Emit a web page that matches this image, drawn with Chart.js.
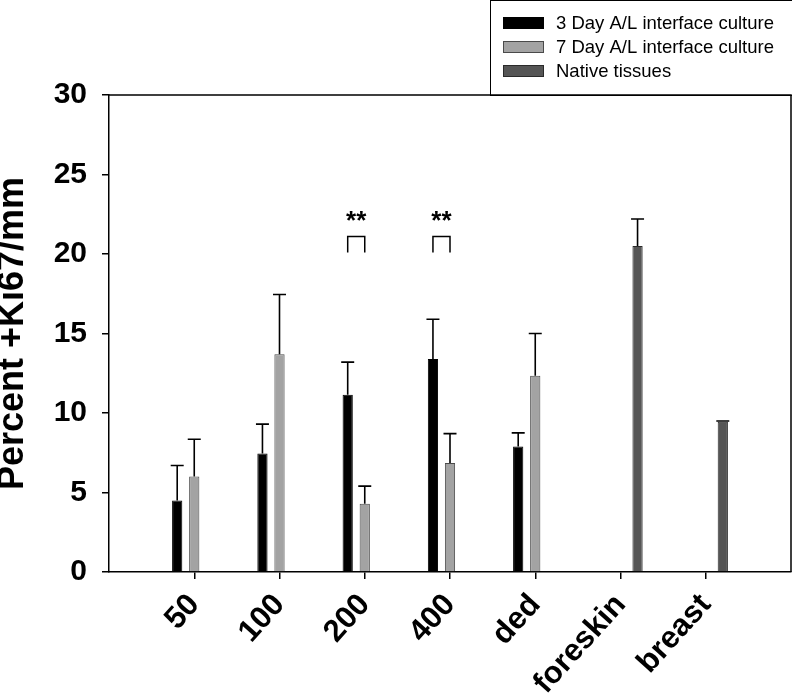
<!DOCTYPE html>
<html>
<head>
<meta charset="utf-8">
<script src="https://cdn.jsdelivr.net/npm/chart.js@4.4.1/dist/chart.umd.min.js"></script>
<style>
  html, body { margin: 0; padding: 0; background: #fff; }
</style>
</head>
<body>
<canvas id="chartKi67" width="792" height="699"></canvas>
<script>
// datos
const categorias = ['50', '100', '200', '400', 'ded', 'foreskin', 'breast'];
const posiciones = [1, 2, 3, 4, 5, 6, 7];
const dia3 = [4.5, 7.45, 11.15, 13.4, 7.9, null, null];
const dia3Error = [2.2, 1.85, 2.05, 2.5, 0.85, null, null];
const dia7 = [6.0, 13.7, 4.3, 6.85, 12.35, null, null];
const dia7Error = [2.35, 3.75, 1.1, 1.85, 2.65, null, null];
const nativo = [null, null, null, null, null, 20.5, 9.45];
const nativoError = [null, null, null, null, null, 1.7, 0.05];
const etiquetasSerie = ['3 Day A/L interface culture', '7 Day A/L interface culture', 'Native tissues'];
const significancia = [3, 4];          // posiciones de 200 y 400
const textoSig = '**';
const corcheteArriba = 21.1, corcheteAbajo = 20.1, alturaTexto = 21.6;

const FUENTE = 'Arial, "Liberation Sans", sans-serif';

function puntos(valores, errores) {
    return posiciones
        .map((p, i) => ({ x: p, y: valores[i], err: errores[i] }))
        .filter(d => d.y !== null);
}

// barras de error hacia arriba
const pluginErrores = {
    id: 'errores',
    afterDatasetsDraw(chart) {
        const ctx = chart.ctx;
        const y = chart.scales.y;
        ctx.save();
        ctx.strokeStyle = '#000';
        ctx.lineWidth = 1.6;
        chart.data.datasets.forEach((ds, i) => {
            const meta = chart.getDatasetMeta(i);
            meta.data.forEach((bar, j) => {
                const d = ds.data[j];
                if (!d || d.err == null) return;
                const top = y.getPixelForValue(d.y + d.err);
                ctx.beginPath();
                ctx.moveTo(bar.x, bar.y);
                ctx.lineTo(bar.x, top);
                ctx.moveTo(bar.x - 6.5, top);
                ctx.lineTo(bar.x + 6.5, top);
                ctx.stroke();
            });
        });
        ctx.restore();
    }
};

// corchetes y asteriscos
const pluginSignificancia = {
    id: 'significancia',
    afterDatasetsDraw(chart) {
        const ctx = chart.ctx;
        const y = chart.scales.y;
        const m0 = chart.getDatasetMeta(0), m1 = chart.getDatasetMeta(1);
        ctx.save();
        ctx.strokeStyle = '#000';
        ctx.lineWidth = 1.5;
        ctx.fillStyle = '#000';
        ctx.font = 'bold 26px ' + FUENTE;
        ctx.textAlign = 'center';
        ctx.textBaseline = 'alphabetic';
        significancia.forEach(pos => {
            const j0 = chart.data.datasets[0].data.findIndex(d => d.x === pos);
            const j1 = chart.data.datasets[1].data.findIndex(d => d.x === pos);
            const xa = m0.data[j0].x, xb = m1.data[j1].x;
            const yt = y.getPixelForValue(corcheteArriba), yb = y.getPixelForValue(corcheteAbajo);
            ctx.beginPath();
            ctx.moveTo(xa, yb);
            ctx.lineTo(xa, yt);
            ctx.lineTo(xb, yt);
            ctx.lineTo(xb, yb);
            ctx.stroke();
            ctx.fillText(textoSig, (xa + xb) / 2, y.getPixelForValue(alturaTexto));
        });
        ctx.restore();
    }
};

// marco superior y derecho + leyenda en caja
const pluginMarco = {
    id: 'marco',
    afterDraw(chart) {
        const ctx = chart.ctx;
        const a = chart.chartArea;
        ctx.save();
        ctx.strokeStyle = '#000';
        ctx.lineWidth = 1.5;
        ctx.beginPath();
        ctx.moveTo(a.left, a.top);
        ctx.lineTo(a.right, a.top);
        ctx.lineTo(a.right, a.bottom);
        ctx.stroke();

        // leyenda
        ctx.lineWidth = 1;
        ctx.strokeRect(490.5, 0.5, 310, a.top);
        ctx.font = '18.5px ' + FUENTE;
        ctx.textBaseline = 'middle';
        ctx.textAlign = 'left';
        chart.data.datasets.forEach((ds, i) => {
            const cy = 23 + i * 24;
            ctx.fillStyle = ds.backgroundColor;
            ctx.fillRect(503, cy - 6, 41, 12);
            ctx.strokeStyle = ds.borderColor;
            ctx.strokeRect(503.5, cy - 5.5, 40, 11);
            ctx.fillStyle = '#000';
            ctx.fillText(ds.label, 556, cy + 1);
        });
        ctx.restore();
    }
};

const ctx = document.getElementById('chartKi67').getContext('2d');
const chart = new Chart(ctx, {
    type: 'bar',
    data: {
        datasets: [{
            label: etiquetasSerie[0],
            data: puntos(dia3, dia3Error),
            backgroundColor: '#000000',
            borderColor: '#000000',
            borderWidth: 1
        }, {
            label: etiquetasSerie[1],
            data: puntos(dia7, dia7Error),
            backgroundColor: '#a3a3a3',
            borderColor: '#4a4a4a',
            borderWidth: 1
        }, {
            label: etiquetasSerie[2],
            data: puntos(nativo, nativoError),
            backgroundColor: '#555555',
            borderColor: '#2a2a2a',
            borderWidth: 1
        }]
    },
    options: {
        responsive: false,
        animation: false,
        categoryPercentage: 0.6,
        barPercentage: 0.6,
        layout: { padding: { top: 95, right: 1, left: 0, bottom: 0 } },
        plugins: { legend: { display: false }, tooltip: { enabled: false } },
        scales: {
            x: {
                type: 'linear',
                min: 0,
                max: 8,
                offset: false,
                afterBuildTicks: s => { s.ticks = posiciones.map(v => ({ value: v })); },
                afterFit: s => { s.height = 127; },
                grid: { offset: false, drawOnChartArea: false, drawTicks: true, tickLength: 7, color: '#000', lineWidth: 1.5 },
                border: { display: true, color: '#000', width: 1.5 },
                ticks: {
                    autoSkip: false,
                    maxRotation: 48,
                    minRotation: 48,
                    padding: 8,
                    color: '#000',
                    font: { family: FUENTE, size: 31, weight: 'bold' },
                    callback: v => categorias[posiciones.indexOf(v)]
                }
            },
            y: {
                min: 0,
                max: 30,
                afterFit: s => { s.width = 109; },
                grid: { drawOnChartArea: false, drawTicks: true, tickLength: 7, color: '#000', lineWidth: 1.5 },
                border: { display: true, color: '#000', width: 1.5 },
                ticks: {
                    stepSize: 5,
                    padding: 15,
                    color: '#000',
                    font: { family: FUENTE, size: 30, weight: 'bold' }
                },
                title: {
                    display: true,
                    text: 'Percent +Ki67/mm',
                    color: '#000',
                    padding: 0,
                    font: { family: FUENTE, size: 36, weight: 'bold', lineHeight: 0.75 }
                }
            }
        }
    },
    plugins: [pluginErrores, pluginSignificancia, pluginMarco]
});
</script>
</body>
</html>
